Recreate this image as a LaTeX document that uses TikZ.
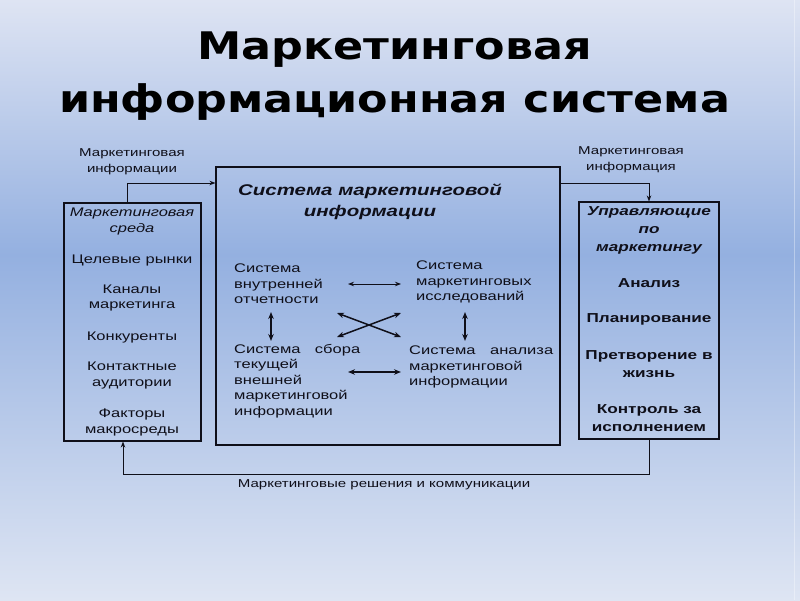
\documentclass[tikz,border=0pt]{standalone}
\usepackage{fontspec}
\setmainfont{Liberation Sans}
\newfontfamily\wide[FakeStretch=1.32]{Liberation Sans}
\newfontfamily\titlef[FakeStretch=1.17]{DejaVu Sans}
\usetikzlibrary{arrows.meta}
\definecolor{bgtop}{RGB}{222,228,243}
\definecolor{bgmid}{RGB}{148,176,224}
\definecolor{bgbot}{RGB}{222,229,243}
\definecolor{ink}{RGB}{15,15,25}
\tikzset{
  box/.style={draw=ink, line width=1.1pt, inner sep=0pt},
  conn/.style={draw=ink, line width=0.9pt, -{Stealth[length=6pt,width=4.5pt]}},
  darr/.style={draw=ink, line width=0.9pt, {Stealth[length=6pt,width=4.5pt]}-{Stealth[length=6pt,width=4.5pt]}},
  darrb/.style={draw=ink, line width=1.5pt, {Stealth[length=7pt,width=5.5pt]}-{Stealth[length=7pt,width=5.5pt]}},
  lbl/.style={text=ink, inner sep=0pt, align=center, font=\wide\fontsize{11.4}{15.5}\selectfont},
  envtxt/.style={text=ink, inner sep=0pt, align=center, font=\wide\fontsize{12.5}{15.5}\selectfont},
  mgrtxt/.style={text=ink, inner sep=0pt, align=center, font=\wide\bfseries\fontsize{13}{18}\selectfont},
  systxt/.style={text=ink, inner sep=0pt, align=left, anchor=north west, font=\wide\fontsize{12.5}{15.5}\selectfont},
}
\begin{document}
\begin{tikzpicture}[x=1pt,y=-1pt]
\useasboundingbox (0,0) rectangle (800,600);
\shade[top color=bgtop, bottom color=bgmid] (0,0) rectangle (800,255);
\shade[top color=bgmid, bottom color=bgbot] (0,254.5) rectangle (800,600);
\draw[white, opacity=0.35, line width=0.8pt] (794,0) -- (794,600);

% title
\node[inner sep=0pt, align=center, font=\titlef\bfseries\fontsize{38}{53}\selectfont] (title) at (394.5,76) {Маркетинговая\\информационная система};

% boxes
\node[box, minimum width=137pt, minimum height=238pt] (env) at (132.5,322) {};
\node[box, minimum width=344pt, minimum height=278pt] (sys) at (388,306) {};
\node[box, minimum width=140pt, minimum height=237pt] (mgr) at (649,320.5) {};

% connectors
\coordinate (lup) at (127,183);
\coordinate (rup) at (649,183);
\coordinate (bot) at (123,474);
\draw[conn] (env.north -| lup) |- (sys.west |- lup);
\draw[conn] (sys.east |- rup) -| (mgr.north);
\draw[conn] (mgr.south) |- (bot) -- (env.south -| bot);

\node[lbl] (lblL) at (132,162) {Маркетинговая\\информации};
\node[lbl] (lblR) at (631,160) {Маркетинговая\\информация};
\node[lbl] (lblB) at (384,485) {Маркетинговые решения и коммуникации};

% left box text
\node[envtxt, font=\wide\itshape\fontsize{12.5}{15.5}\selectfont] (e0) at (132,221.5) {Маркетинговая\\среда};
\node[envtxt] (e1) at (132,260.5) {Целевые рынки};
\node[envtxt] (e2) at (132,298) {Каналы\\маркетинга};
\node[envtxt] (e3) at (132,337) {Конкуренты};
\node[envtxt] (e4) at (132,375.5) {Контактные\\аудитории};
\node[envtxt] (e5) at (132,422.5) {Факторы\\макросреды};

% right box text
\node[mgrtxt, font=\wide\bfseries\itshape\fontsize{13}{18}\selectfont] (m0) at (649,230) {Управляющие\\по\\маркетингу};
\node[mgrtxt] (m1) at (649,283.5) {Анализ};
\node[mgrtxt] (m2) at (649,319) {Планирование};
\node[mgrtxt] (m3) at (649,364) {Претворение в\\жизнь};
\node[mgrtxt] (m4) at (649,418.5) {Контроль за\\исполнением};

% centre box text
\node[text=ink, inner sep=0pt, align=center, font=\wide\bfseries\itshape\fontsize{15.5}{21}\selectfont] (st) at (370,202) {Система маркетинговой\\информации};
\node[systxt] (s1) at (234,264) {Система\\внутренней\\отчетности};
\node[systxt] (s2) at (416,261) {Система\\маркетинговых\\исследований};
\node[systxt] (s3) at (234,344) {\makebox[126pt][s]{Система\hfil сбора}\\текущей\\внешней\\маркетинговой\\информации};
\node[systxt] (s4) at (409,346) {\makebox[144pt][s]{Система\hfil анализа}\\маркетинговой\\информации};

% internal arrows
\coordinate (h1a) at (348,284); \coordinate (h1b) at (401,284);
\coordinate (h2a) at (348,372); \coordinate (h2b) at (401,372);
\coordinate (v1a) at (271,312); \coordinate (v1b) at (271,341);
\coordinate (v2a) at (465,312); \coordinate (v2b) at (465,341);
\coordinate (xa) at (337,313); \coordinate (xb) at (401,337);
\coordinate (xc) at (337,337); \coordinate (xd) at (401,313);
\draw[darr] (h1a) -- (h1b);
\draw[darrb] (h2a) -- (h2b);
\draw[darrb] (v1a) -- (v1b);
\draw[darrb] (v2a) -- (v2b);
\draw[darrb] (xa) -- (xb);
\draw[darrb] (xc) -- (xd);
\end{tikzpicture}
\end{document}
